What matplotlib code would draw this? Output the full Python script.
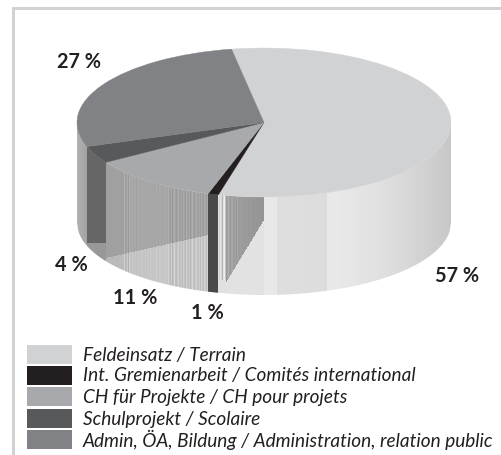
import numpy as np
import matplotlib
matplotlib.use("Agg")
import matplotlib.pyplot as plt
from matplotlib.patches import Wedge, Rectangle, Polygon
from matplotlib.transforms import Affine2D

# ---- data ----
categories = ["Feldeinsatz / Terrain",
              "Int. Gremienarbeit / Comités international",
              "CH für Projekte / CH pour projets",
              "Schulprojekt / Scolaire",
              "Admin, ÖA, Bildung / Administration, relation public"]
slice_shares = [56.7, 0.9, 11.2, 3.75, 27.45]   # as measured from the slice angles
value_labels = ["57 %", "1 %", "11 %", "4 %", "27 %"]
colors = ["#d1d2d4", "#231f20", "#a7a9ac", "#58595b", "#808285"]

# ---- layout ----
W, H = 502, 455
cx, cy, rx, ry = 264, 122.5, 187, 74.5
depth, ry_bottom = 100, 72.5
start_angle = 100

fig = plt.figure(figsize=(W / 100, H / 100), dpi=100)
ax = fig.add_axes([0, 0, 1, 1])
ax.set_xlim(0, W)
ax.set_ylim(H, 0)
ax.axis("off")

# frame
ax.add_patch(Rectangle((12, 7), W - 12, 2.5, color="#d1d2d4", lw=0))
ax.add_patch(Rectangle((12, 7), 2.7, H - 7, color="#d1d2d4", lw=0))

# slice boundaries (clockwise from start_angle)
cum = np.cumsum([0] + slice_shares)
angles = start_angle - np.array(cum) * 3.6
bx = cx + rx * np.cos(np.radians(angles))
x_feld = bx[1]      # Feld / Gremien
x_grem = bx[2]      # Gremien / CH
x_ch = bx[3]        # CH / Schul
x_schul = bx[4]     # Schul / Admin


def top_y(x):
    return cy + ry * np.sqrt(np.clip(1 - ((x - cx) / rx) ** 2, 0, 1))


def bottom_y(x):
    return cy + depth + ry_bottom * np.sqrt(np.clip(1 - ((x - cx) / rx) ** 2, 0, 1))


# ---- wall shading, computed per pixel column ----
ripple_ch = [0, 8, -5, 11, 2, -6, 14, 3, -3, 10, -8, 5, 16, 0, -5, 7, 12, -2]
ripple_lt = [30, 10, -30, 25, 40, -10, 15, -45, 30, 5]
img = np.full((H, W), 255.0)
ys = np.arange(H) + 0.5
for col in range(W):
    x = col + 0.5
    if x < cx - rx - 1 or x > cx + rx + 1:
        continue
    shade = np.zeros(H)
    if x < x_schul:
        shade[:] = 178 - (x - (cx - rx)) * 1.6
    elif x < x_ch:
        split = 243
        shade[:] = np.where(ys < split, 102, 152)
    elif x < x_grem:
        t = (x - x_ch) / (x_grem - x_ch)
        split = 258 - 23 * t
        rip = ripple_ch[col % len(ripple_ch)]
        if x < x_ch + 18:
            rip = 0
        elif x < x_ch + 24:
            rip = rip * 1.4
        elif x < x_ch + 62:
            rip = 6 + rip * 0.25
        up = 160 + rip
        low = 185 + rip * 1.3 + 10 * t
        shade[:] = np.where(ys < split, up, low)
    elif x < x_feld:
        shade[:] = 74
    elif x < x_feld + 8:
        shade[:] = 205 + ripple_lt[col % len(ripple_lt)] * 0.8
        shade[ys > 280] = 225
    elif x <= cx:
        edge = 220 + (cx - x) / (cx - x_feld - 8) * 62
        rip = ripple_ch[col % len(ripple_ch)] * (0.9 if x < x_feld + 20 else 0.25)
        shade[:] = np.where(ys < edge, 163 - (x - x_feld) * 0.35 + rip, 226)
    elif x < cx + 13:
        shade[:] = 232
    elif x < cx + 63:
        shade[:] = 222 - (x - cx - 13) * 0.04
    else:
        f = (x - cx - 63) / (rx - 63)
        shade[:] = 232 - 34 * f ** 1.6
    img[:, col] = shade

xs_wall = np.linspace(cx - rx, cx + rx, 300)
wall_poly = np.column_stack([np.r_[xs_wall, xs_wall[::-1]],
                             np.r_[top_y(xs_wall), bottom_y(xs_wall[::-1])]])
im = ax.imshow(img, cmap="gray", vmin=0, vmax=255, extent=(0, W, H, 0),
               interpolation="bilinear", aspect="auto", zorder=1)
clip = Polygon(wall_poly, closed=True, transform=ax.transData, fc="none", ec="none")
ax.add_patch(clip)
im.set_clip_path(clip)

# ---- top face, from the data ----
to_screen = Affine2D().scale(rx, -ry).translate(cx, cy) + ax.transData
for a0, a1, c in zip(angles[:-1], angles[1:], colors):
    w = Wedge((0, 0), 1, a1, a0, fc=c, ec=c, lw=0.3, transform=to_screen, zorder=2)
    ax.add_patch(w)

# ---- percentage labels ----
label_xy = [(457, 276), (207, 313), (135, 298), (71.5, 265), (79, 62)]
for (lx, ly), t in zip(label_xy, value_labels):
    ax.text(lx, ly, t, ha="center", va="center", family="Lato", weight="bold",
            fontsize=14.3, color="#231f20", zorder=3)

# ---- legend ----
swatch_y = [345, 366, 387, 409, 430]
for y, c, t in zip(swatch_y, colors, categories):
    ax.add_patch(Rectangle((27, y), 45, 19, fc=c, ec="none"))
    ax.text(83, y + 10, t, ha="left", va="center", family="Lato", style="italic",
            fontsize=13.72, color="#231f20")

fig.savefig("out.png", dpi=100)
